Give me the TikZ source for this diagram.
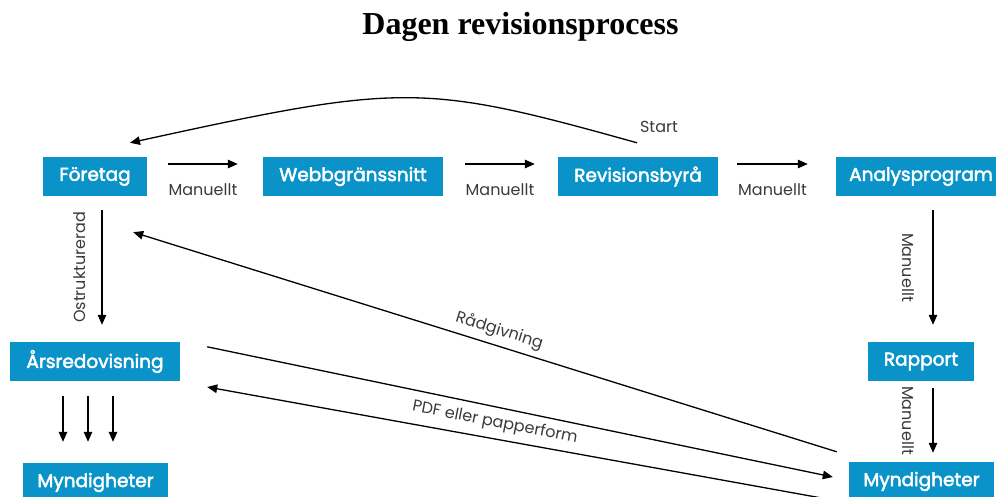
\documentclass[tikz,border=0pt]{standalone}
\usepackage{fontspec}
\setmainfont{Liberation Serif}
\setsansfont{Poppins}
\newfontfamily\boxfont[FakeBold=2.5]{Poppins}
\usetikzlibrary{arrows.meta,calc}
\definecolor{boxblue}{HTML}{0A93C9}
\definecolor{lblgray}{HTML}{3A3A3A}
\begin{document}
\begin{tikzpicture}[x=1pt,y=-1pt,
  box/.style={fill=boxblue,text=white,font=\boxfont\fontsize{18.5}{21}\selectfont,minimum height=39pt,inner sep=0pt,anchor=center},
  lbl/.style={text=lblgray,font=\sffamily\fontsize{16}{18}\selectfont,inner sep=0pt},
  arr/.style={line width=1.3pt,-{Triangle[length=10pt,width=8.5pt]}},
  ln/.style={line width=1.3pt}]
\useasboundingbox (0,0) rectangle (996,497);
\node[font=\bfseries\fontsize{32}{36}\selectfont,anchor=base] (title) at (520.5,35) {Dagen revisionsprocess};
% boxes
\node[box,minimum width=104pt] (F) at (95,176.5) {Företag};
\node[box,minimum width=180pt] (W) at (353,176.5) {Webbgränssnitt};
\node[box,minimum width=160pt] (R) at (638,176.5) {Revisionsbyrå};
\node[box,minimum width=170pt] (A) at (921,176.5) {Analysprogram};
\node[box,minimum width=170pt] (AR) at (95,361.5) {Årsredovisning};
\node[box,minimum width=106pt] (RP) at (921,361.5) {Rapport};
\node[box,minimum width=145pt] (ML) at (95.5,482.5) {Myndigheter};
\node[box,minimum width=145pt] (MR) at (921.5,481.5) {Myndigheter};
% top row arrows
\draw[arr] ([xshift=21pt,yshift=12.5pt]F.east) -- ([xshift=-25pt,yshift=12.5pt]W.west)
  node[lbl,midway,yshift=-26pt] {Manuellt};
\draw[arr] ([xshift=22pt,yshift=12.5pt]W.east) -- ([xshift=-23pt,yshift=12.5pt]R.west)
  node[lbl,midway,yshift=-26pt] {Manuellt};
\draw[arr] ([xshift=19pt,yshift=12.5pt]R.east) -- ([xshift=-28pt,yshift=12.5pt]A.west)
  node[lbl,midway,yshift=-26pt] {Manuellt};
% start curve
\draw[arr] ([xshift=-1pt,yshift=14pt]R.north) .. controls (423,83) and (403,83) .. ([xshift=35pt,yshift=14pt]F.north);
\node[lbl] (start) at (659,127) {Start};
% Ostrukturerad
\draw[arr] ([xshift=7pt,yshift=-14pt]F.south) -- ([xshift=7pt,yshift=17pt]AR.north)
  node[lbl,midway,xshift=-22pt,rotate=90] {Ostrukturerad};
% right column
\draw[arr] ([xshift=12pt,yshift=-14pt]A.south) -- ([xshift=12pt,yshift=17pt]RP.north)
  node[lbl,midway,xshift=-25pt,rotate=-90] {Manuellt};
\draw[arr] ([xshift=12pt,yshift=-7pt]RP.south) -- ([xshift=11.5pt,yshift=9pt]MR.north)
  node[lbl,midway,xshift=-25pt,rotate=-90] {Manuellt};
% three arrows
\foreach \dx in {-32,-7,18}{
  \draw[arr] ([xshift=\dx pt,yshift=-15pt]AR.south) -- ([xshift=\dx pt - 0.5pt,yshift=21pt]ML.north);
}
% Rådgivning
\draw[arr] ([xshift=-12pt,yshift=10pt]MR.north west) -- ([xshift=-14pt,yshift=-36pt]F.south east)
  node[lbl,pos=0.486,sloped,yshift=15pt] {Rådgivning};
% Årsredovisning lines
\draw[arr] ([xshift=27pt,yshift=-5pt]AR.north east) -- ([xshift=-16pt,yshift=4.5pt]MR.west);
\draw[arr] ([xshift=-4pt,yshift=-1pt]MR.south west) -- ([xshift=27pt,yshift=-25.5pt]AR.east);
\node[lbl,rotate=-11] (pdf) at (495,423) {PDF eller papperform};
\end{tikzpicture}
\end{document}
